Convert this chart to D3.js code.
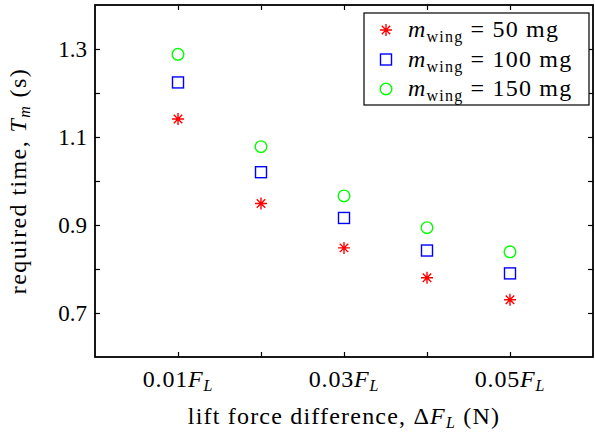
<!DOCTYPE html>
<html>
<head>
<meta charset="utf-8">
<title>Required time vs lift force difference</title>
<script src="https://cdn.jsdelivr.net/npm/d3@7"></script>
<style>
  body { margin: 0; background: #fff; }
  svg text { font-family: "Liberation Serif", "DejaVu Serif", serif; fill: #000; }
</style>
</head>
<body>
<script>
// data
const xValues = [0.01, 0.02, 0.03, 0.04, 0.05];
const time50 = [1.141, 0.949, 0.848, 0.780, 0.730];
const time100 = [1.224, 1.020, 0.916, 0.842, 0.790];
const time150 = [1.288, 1.078, 0.966, 0.894, 0.839];
const seriesNames = ["50", "100", "150"];
const xTicks = [0.01, 0.02, 0.03, 0.04, 0.05];
const xTickLabels = ["0.01", "", "0.03", "", "0.05"];
const yTicks = [0.7, 0.8, 0.9, 1.0, 1.1, 1.2, 1.3];
const yTickLabels = ["0.7", "", "0.9", "", "1.1", "", "1.3"];

const width = 595, height = 432;
const margin = { left: 95, top: 5, right: 2, bottom: 75 };
const fs = 24, fsSub = 16, spacing = 1.2;

const svg = d3.select("body").append("svg")
    .attr("width", width)
    .attr("height", height);

const x = d3.scaleLinear().domain([0, 0.06]).range([margin.left, width - margin.right]);
const y = d3.scaleLinear().domain([0.6, 1.4]).range([height - margin.bottom, margin.top]);

const series = [
    { name: seriesNames[0], values: time50, color: "#ff0000", shape: "star" },
    { name: seriesNames[1], values: time100, color: "#0000ff", shape: "square" },
    { name: seriesNames[2], values: time150, color: "#00ff00", shape: "circle" }
];

// inward ticks on all four sides
let tickLen = 5;
svg.append("g").attr("transform", "translate(0," + y.range()[0] + ")")
    .call(d3.axisTop(x).tickValues(xTicks).tickSize(tickLen).tickFormat(""));
svg.append("g").attr("transform", "translate(0," + y.range()[1] + ")")
    .call(d3.axisBottom(x).tickValues(xTicks).tickSize(tickLen).tickFormat(""));
svg.append("g").attr("transform", "translate(" + x.range()[0] + ",0)")
    .call(d3.axisRight(y).tickValues(yTicks).tickSize(tickLen).tickFormat(""));
svg.append("g").attr("transform", "translate(" + x.range()[1] + ",0)")
    .call(d3.axisLeft(y).tickValues(yTicks).tickSize(tickLen).tickFormat(""));
svg.selectAll(".domain").remove();
svg.selectAll(".tick line").attr("stroke", "#000").attr("stroke-width", 1.2);

// frame
svg.append("rect")
    .attr("x", x.range()[0]).attr("y", y.range()[1])
    .attr("width", x.range()[1] - x.range()[0])
    .attr("height", y.range()[0] - y.range()[1])
    .attr("fill", "none").attr("stroke", "#000").attr("stroke-width", 1.8);

// y tick labels
svg.selectAll("text.ylab").data(yTicks).enter().append("text")
    .attr("class", "ylab")
    .attr("x", x.range()[0] - 8)
    .attr("y", d => y(d))
    .attr("dy", "0.35em")
    .attr("text-anchor", "end")
    .attr("font-size", 23)
    .text((d, i) => yTickLabels[i]);

// x tick labels, e.g. 0.01F_L
let xl = svg.selectAll("text.xlab").data(xTicks.filter((d, i) => xTickLabels[i] !== ""))
    .enter().append("text")
    .attr("class", "xlab")
    .attr("x", d => x(d))
    .attr("y", 387)
    .attr("text-anchor", "middle")
    .attr("font-size", fs)
    .attr("letter-spacing", 0.8);
xl.append("tspan").text(d => xTickLabels[xTicks.indexOf(d)]);
xl.append("tspan").attr("font-style", "italic").text("F");
xl.append("tspan").attr("font-style", "italic").attr("font-size", fsSub).attr("dy", 4).text("L");

// axis titles
let xt = svg.append("text")
    .attr("x", (x.range()[0] + x.range()[1]) / 2)
    .attr("y", 424)
    .attr("text-anchor", "middle")
    .attr("font-size", fs)
    .attr("letter-spacing", spacing);
xt.append("tspan").text("lift force difference, Δ");
xt.append("tspan").attr("font-style", "italic").text("F");
xt.append("tspan").attr("font-style", "italic").attr("font-size", fsSub).attr("dy", 4).text("L");
xt.append("tspan").attr("dy", -4).text(" (N)");

let yt = svg.append("text")
    .attr("transform", "translate(26," + (y.range()[0] + y.range()[1]) / 2 + ") rotate(-90)")
    .attr("text-anchor", "middle")
    .attr("font-size", fs)
    .attr("letter-spacing", 1.4);
yt.append("tspan").text("required time, ");
yt.append("tspan").attr("font-style", "italic").text("T");
yt.append("tspan").attr("font-style", "italic").attr("font-size", fsSub).attr("dy", 4).text("m");
yt.append("tspan").attr("dy", -4).text(" (s)");

// markers
function drawMarker(g, shape, color) {
    let r = 6;
    if (shape === "star") {
        let p = d3.path();
        for (let k = 0; k < 4; k++) {
            let a = k * Math.PI / 4;
            p.moveTo(-r * Math.cos(a), -r * Math.sin(a));
            p.lineTo(r * Math.cos(a), r * Math.sin(a));
        }
        g.append("path").attr("d", p.toString())
            .attr("stroke", color).attr("stroke-width", 1.4).attr("fill", "none");
    } else if (shape === "square") {
        g.append("rect").attr("x", -5.5).attr("y", -5.5).attr("width", 11).attr("height", 11)
            .attr("stroke", color).attr("stroke-width", 1.4).attr("fill", "none");
    } else {
        g.append("circle").attr("r", 5.8)
            .attr("stroke", color).attr("stroke-width", 1.4).attr("fill", "none");
    }
}

series.forEach(s => {
    svg.append("g").selectAll("g").data(s.values).enter().append("g")
        .attr("transform", (d, i) => "translate(" + x(xValues[i]) + "," + y(d) + ")")
        .each(function () { drawMarker(d3.select(this), s.shape, s.color); });
});

// legend
let legend = svg.append("g");
legend.append("rect")
    .attr("x", 364).attr("y", 13).attr("width", 225).attr("height", 92)
    .attr("fill", "#fff").attr("stroke", "#000").attr("stroke-width", 1.2);
series.forEach((s, i) => {
    let cy = 30 + i * 29.5;
    let g = legend.append("g").attr("transform", "translate(386," + cy + ")");
    drawMarker(g, s.shape, s.color);
    let t = legend.append("text")
        .attr("x", 408).attr("y", cy + 7)
        .attr("font-size", fs)
        .attr("letter-spacing", 1.2);
    t.append("tspan").attr("font-style", "italic").text("m");
    t.append("tspan").attr("font-size", fsSub).attr("dy", 5).text("wing");
    t.append("tspan").attr("dy", -5).text(" =  " + s.name + " mg");
});
</script>
</body>
</html>
